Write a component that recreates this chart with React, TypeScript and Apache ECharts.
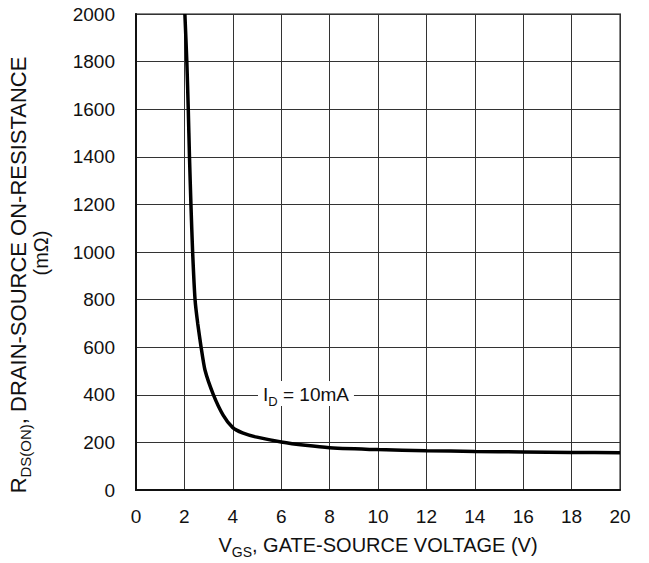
import React, { useEffect, useRef } from "react";
import * as echarts from "echarts";

const xTicks = [0, 2, 4, 6, 8, 10, 12, 14, 16, 18, 20];
const yTicks = [0, 200, 400, 600, 800, 1000, 1200, 1400, 1600, 1800, 2000];
const vgs = [2.02, 2.1, 2.16, 2.21, 2.27, 2.34, 2.44, 2.55, 2.69, 2.85, 3.2, 3.6, 4.0, 4.4, 5.0, 6, 7, 8, 10, 12, 14, 16, 18, 20];
const rds = [2000, 1800, 1600, 1400, 1200, 1000, 800, 700, 600, 504, 400, 315, 262, 240, 222, 202, 188, 178, 170, 165, 162, 160, 158, 157];

const FONT = "'Liberation Sans', Arial, sans-serif";

export default function App() {
  const ref = useRef<HTMLDivElement>(null);
  useEffect(() => {
    if (!ref.current) return;
    const chart = echarts.init(ref.current, undefined, { renderer: "svg" });
    const data = vgs.map((v, i) => [v, rds[i]]);
    const rich = (m: number, s: number) => ({
      m: { fontSize: m, fontFamily: FONT, fill: "#111", lineHeight: m + 2, verticalAlign: "bottom" },
      s: { fontSize: s, fontFamily: FONT, fill: "#111", lineHeight: s + 2, verticalAlign: "bottom", padding: [0, 0, -4, 0] },
    });
    chart.setOption({
      animation: false,
      backgroundColor: "#fff",
      textStyle: { fontFamily: FONT },
      grid: { left: 136, right: 29, top: 14, bottom: 73, show: true, borderColor: "#888", borderWidth: 2, backgroundColor: "transparent" },
      xAxis: {
        type: "value",
        min: xTicks[0],
        max: xTicks[xTicks.length - 1],
        interval: 2,
        axisLine: { show: true, onZero: false, lineStyle: { color: "#111", width: 2 } },
        axisTick: { show: false },
        axisLabel: { fontSize: 19, color: "#111", margin: 17, fontFamily: FONT },
        splitLine: { show: true, lineStyle: { color: "#333", width: 1 } },
      },
      yAxis: {
        type: "value",
        min: yTicks[0],
        max: yTicks[yTicks.length - 1],
        interval: 200,
        axisLine: { show: true, lineStyle: { color: "#111", width: 2 } },
        axisTick: { show: false },
        axisLabel: { fontSize: 19, color: "#111", margin: 21, fontFamily: FONT, formatter: (v: number) => String(v) },
        splitLine: { show: true, lineStyle: { color: "#333", width: 1 } },
      },
      series: [
        {
          type: "line",
          data,
          smooth: 0.2,
          showSymbol: false,
          lineStyle: { color: "#000", width: 3.5 },
          z: 5,
        },
      ],
      graphic: [
        {
          type: "text",
          left: 258,
          top: 381,
          z: 10,
          style: {
            text: "{m|I}{s|D}{m| = 10mA}",
            backgroundColor: "#fff",
            padding: [2, 5, 2, 5],
            rich: rich(19, 13),
          },
        },
        {
          type: "text",
          x: 17,
          y: 275,
          rotation: Math.PI / 2,
          style: {
            text: "{m|R}{s|DS(ON)}{m|, DRAIN-SOURCE ON-RESISTANCE}",
            align: "center",
            verticalAlign: "middle",
            rich: rich(22, 15),
          },
        },
        {
          type: "text",
          x: 41,
          y: 253,
          rotation: Math.PI / 2,
          style: {
            text: "(mΩ)",
            align: "center",
            verticalAlign: "middle",
            fontSize: 20,
            fontFamily: FONT,
            fill: "#111",
          },
        },
        {
          type: "text",
          x: 378,
          y: 544,
          style: {
            text: "{m|V}{s|GS}{m|, GATE-SOURCE VOLTAGE (V)}",
            align: "center",
            verticalAlign: "middle",
            rich: rich(20, 14),
          },
        },
      ],
    });
    return () => chart.dispose();
  }, []);
  return <div ref={ref} style={{ position: "fixed", left: 0, top: 0, width: 649, height: 563 }} />;
}
